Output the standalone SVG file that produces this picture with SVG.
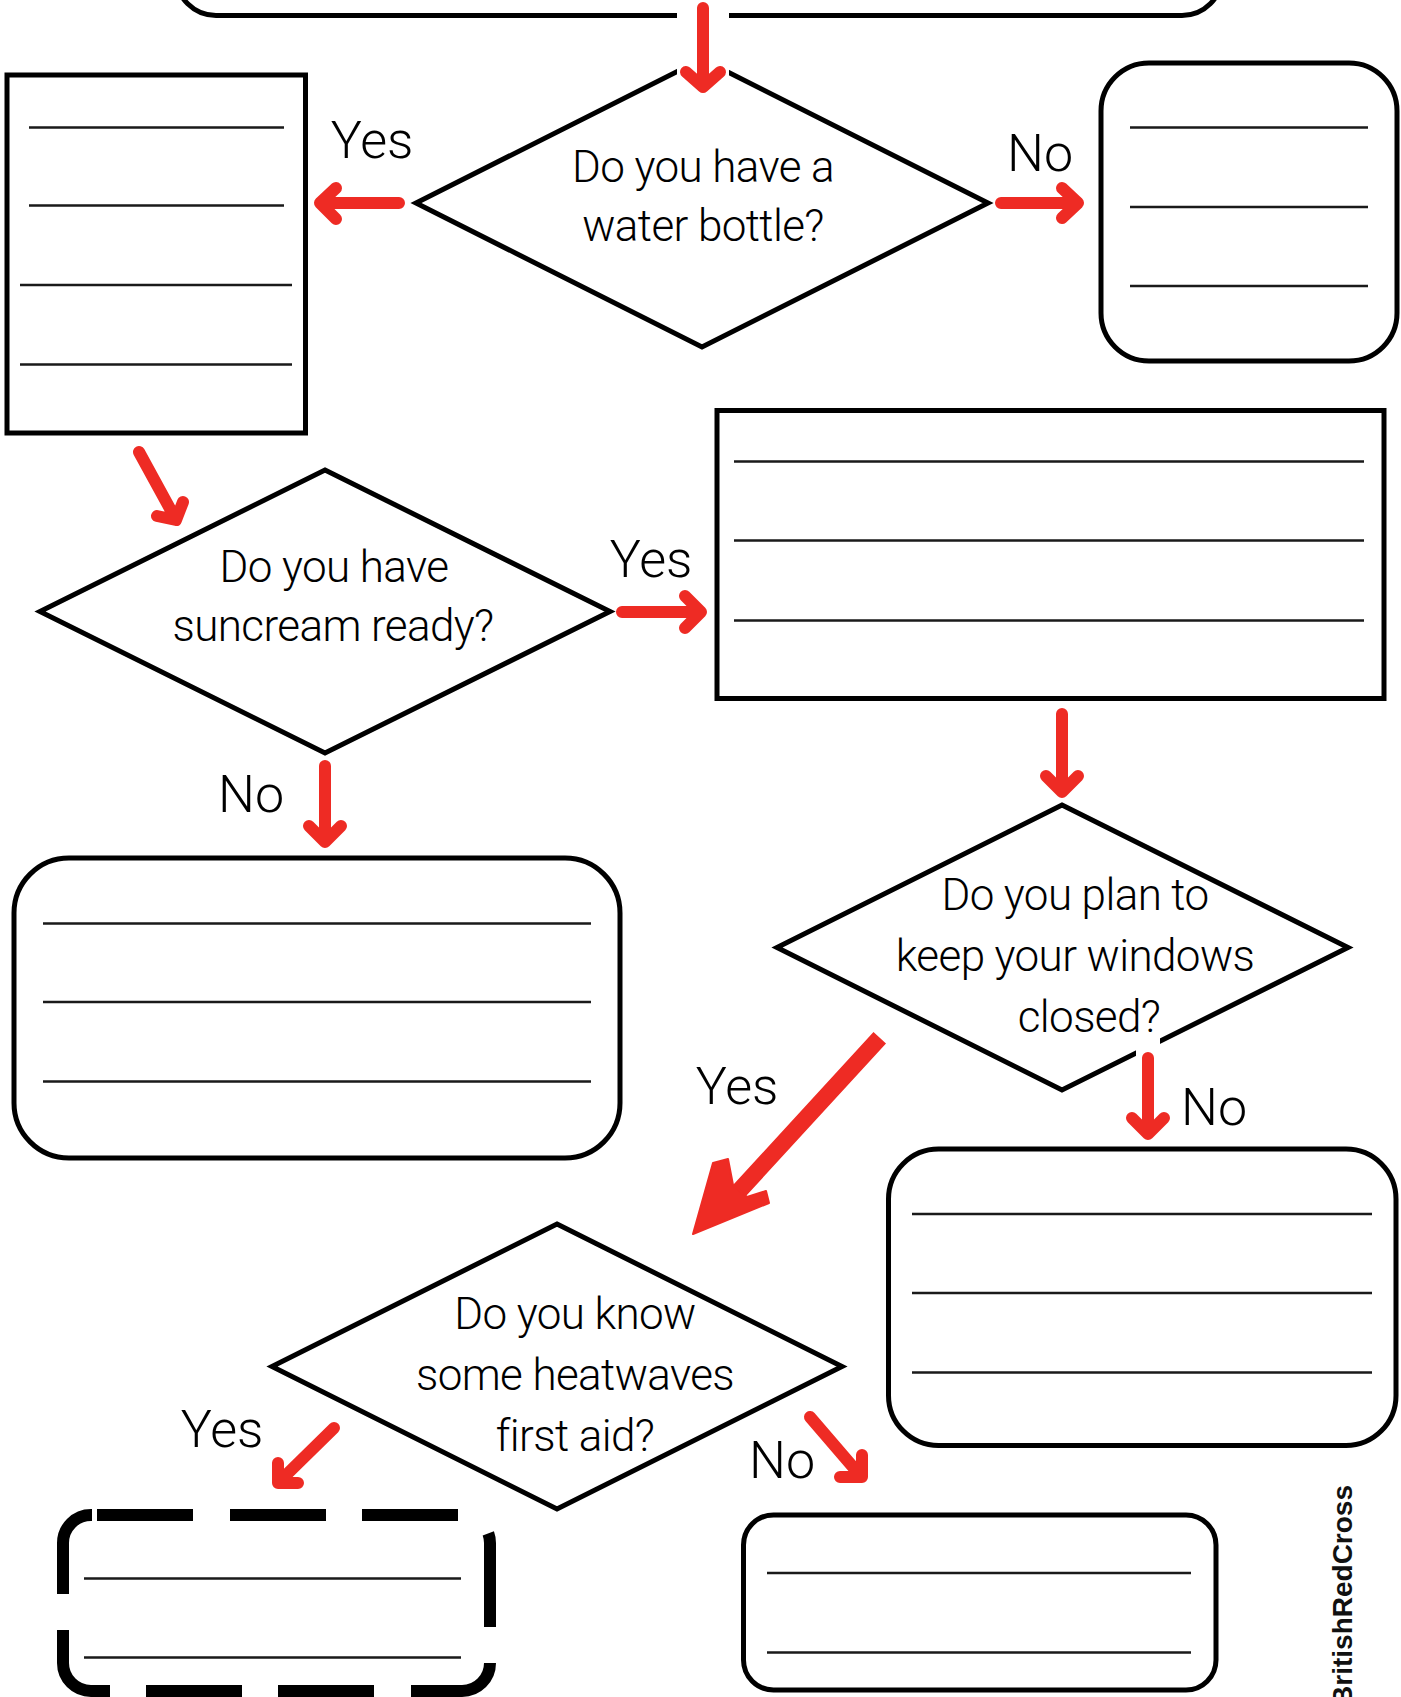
<svg xmlns="http://www.w3.org/2000/svg" width="1401" height="1697" viewBox="0 0 1401 1697">
<style>
.box{fill:#fff;stroke:#000;stroke-width:5}
.dia{fill:#fff;stroke:#000;stroke-width:5;stroke-linejoin:miter}
.ln{stroke:#1a1a1a;stroke-width:2.5;fill:none}
.q{font-family:Roboto,"Liberation Sans",sans-serif;font-weight:300;font-size:44px;letter-spacing:-0.6px;text-anchor:middle;fill:#000}
.lbl{font-family:Roboto,"Liberation Sans",sans-serif;font-weight:300;font-size:52px;text-anchor:middle;fill:#000}
.arr{fill:none;stroke:#EE2B24;stroke-width:12;stroke-linecap:round;stroke-linejoin:round}
.dash{fill:none;stroke:#000;stroke-width:12;stroke-linecap:butt}
.halo{fill:#fff}
.logo{font-family:"Liberation Sans",Arial,sans-serif;font-weight:bold;font-size:28px;fill:#111}
</style>
<rect width="1401" height="1697" fill="#fff"/>

<g id="node-top">
<rect class="box" x="176" y="-200" width="1046" height="215.5" rx="40"/>
</g>

<g id="node-q1">
<polygon class="dia" points="702,59 988,203 702,347 416,203"/>
<text class="q" x="703" y="182">Do you have a</text>
<text class="q" x="703" y="241">water bottle?</text>
</g>

<g id="node-a1-yes">
<rect class="box" x="7" y="75" width="298.5" height="358"/>
<path class="ln" d="M29,127.5H284M29,205.5H284M20,285H292M20,364.5H292"/>
</g>

<g id="node-a1-no">
<rect class="box" x="1101" y="63" width="296" height="298" rx="48"/>
<path class="ln" d="M1130,127.5H1368M1130,207H1368M1130,286H1368"/>
</g>

<g id="node-q2">
<polygon class="dia" points="325,470 610,611.5 325,753 40,611.5"/>
<text class="q" x="334" y="582">Do you have</text>
<text class="q" x="333" y="641">suncream ready?</text>
</g>

<g id="node-a2-yes">
<rect class="box" x="717" y="410.5" width="667" height="288"/>
<path class="ln" d="M734,461.5H1364M734,540.5H1364M734,620.5H1364"/>
</g>

<g id="node-a2-no">
<rect class="box" x="14" y="858" width="606" height="300" rx="55"/>
<path class="ln" d="M43,923.5H591M43,1002H591M43,1081.5H591"/>
</g>

<g id="node-q3">
<polygon class="dia" points="1062,805 1348,947.5 1062,1090 777,947.5"/>
<text class="q" x="1075" y="910">Do you plan to</text>
<text class="q" x="1075" y="971">keep your windows</text>
<text class="q" x="1089" y="1032">closed?</text>
</g>

<g id="node-a3-no">
<rect class="box" x="888.5" y="1149" width="507.5" height="296.5" rx="50"/>
<path class="ln" d="M912,1214H1372M912,1293H1372M912,1372.5H1372"/>
</g>

<g id="node-q4">
<polygon class="dia" points="557,1224 842,1366.5 557,1509 272,1366.5"/>
<text class="q" x="575" y="1329">Do you know</text>
<text class="q" x="575" y="1390">some heatwaves</text>
<text class="q" x="575" y="1451">first aid?</text>
</g>

<g id="node-a4-yes">
<rect x="63" y="1515" width="427" height="176" rx="28" fill="#fff"/>
<path class="dash" d="M63,1594V1543A28,28 0 0 1 91,1515H92M97,1515H193M230,1515H326M362,1515H458M488.3,1533.4A28,28 0 0 1 490,1543V1627M490,1663A28,28 0 0 1 462,1691H411M374,1691H278M242,1691H146M110,1691H91A28,28 0 0 1 63,1663V1630"/>
<path class="ln" d="M84,1578.5H461M84,1657.5H461"/>
</g>

<g id="node-a4-no">
<rect class="box" x="743.5" y="1515" width="472.5" height="175" rx="30"/>
<path class="ln" d="M767,1573H1191M767,1652.5H1191"/>
</g>

<g id="connectors">
<rect class="halo" x="677" y="-5" width="52" height="102"/>
<rect class="halo" x="1136" y="1036" width="24" height="22"/>
<path class="arr" d="M703,8V86M686,72L703,87L720,72"/>
<path class="arr" d="M399,203H322M336,188L320,203L336,219"/>
<path class="arr" d="M1001,203H1076M1062,188L1078,203L1062,218"/>
<path class="arr" d="M139,452L174,516M157,516L176,520L183,502"/>
<path class="arr" d="M622,612H700M685,596L701,612L685,628"/>
<path class="arr" d="M1062,714V790M1046,776L1062,792L1078,776"/>
<path class="arr" d="M325,766V840M309,826L325,842L341,826"/>
<path class="arr" d="M1148,1058V1132M1132,1118L1148,1134L1164,1118"/>
<path d="M874,1044L740,1190" fill="none" stroke="#EE2B24" stroke-width="17" stroke-linecap="square"/>
<polygon points="693,1234 713,1163 728,1159 733,1185 747,1197 766,1191 769,1203" fill="#EE2B24" stroke="#EE2B24" stroke-width="2" stroke-linejoin="round"/>
<path class="arr" d="M334,1428L281,1480M278,1463L278,1483L298,1483"/>
<path class="arr" d="M810,1417L859,1474M862,1455L862,1477L840,1477"/>
<g id="labels">
<text class="lbl" x="372" y="158">Yes</text>
<text class="lbl" x="1040" y="171">No</text>
<text class="lbl" x="651" y="577">Yes</text>
<text class="lbl" x="251" y="812">No</text>
<text class="lbl" x="737" y="1104">Yes</text>
<text class="lbl" x="1214" y="1125">No</text>
<text class="lbl" x="222" y="1447">Yes</text>
<text class="lbl" x="782" y="1478">No</text>
</g>
</g>

<text class="logo" transform="translate(1352,1485) rotate(-90)" text-anchor="end">BritishRedCross</text>
</svg>
